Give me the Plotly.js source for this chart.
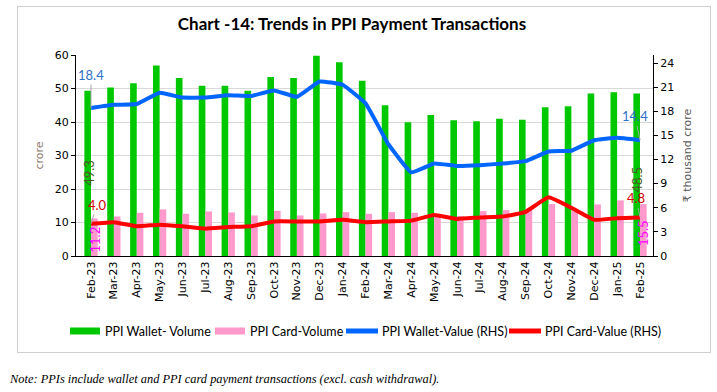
<!DOCTYPE html>
<html>
<head>
<meta charset="utf-8">
<script src="https://cdn.plot.ly/plotly-3.0.1.min.js"></script>
<style>
html,body{margin:0;padding:0;background:#fff;}
#wrap{position:relative;width:717px;height:392px;}
#chart{width:717px;height:392px;}
#frame{position:absolute;left:17px;top:6px;width:692px;height:345px;border:1px solid #CFCFCF;pointer-events:none;box-sizing:content-box;}
</style>
</head>
<body>
<div id="wrap"><div id="chart"></div><div id="frame"></div></div>
<script>
const months = ["Feb-23","Mar-23","Apr-23","May-23","Jun-23","Jul-23","Aug-23","Sep-23","Oct-23","Nov-23","Dec-23","Jan-24","Feb-24","Mar-24","Apr-24","May-24","Jun-24","Jul-24","Aug-24","Sep-24","Oct-24","Nov-24","Dec-24","Jan-25","Feb-25"];
const walletVolume = [49.3,50.3,51.6,56.9,53.1,50.8,50.8,49.3,53.4,53.1,59.8,57.8,52.3,45.0,39.9,42.1,40.5,40.2,41.0,40.7,44.4,44.7,48.5,48.9,48.5];
const cardVolume = [11.2,11.8,12.9,13.9,12.6,13.3,13.0,12.1,13.5,12.1,12.7,13.1,12.6,13.1,12.9,12.5,11.9,13.4,13.7,14.0,15.5,13.5,15.4,16.6,15.5];
const walletValue = [18.4,18.8,18.9,20.3,19.7,19.7,20.0,19.9,20.6,19.8,21.7,21.3,19.0,13.9,10.4,11.5,11.2,11.3,11.5,11.8,13.0,13.1,14.4,14.7,14.4];
const cardValue = [4.0,4.2,3.7,3.9,3.7,3.4,3.6,3.7,4.3,4.3,4.3,4.5,4.2,4.3,4.4,5.1,4.6,4.8,4.9,5.5,7.3,6.0,4.5,4.7,4.8];
const legendNames = ["PPI Wallet- Volume","PPI Card-Volume","PPI Wallet-Value (RHS)","PPI Card-Value (RHS)"];

const C_GREEN = "#00C800", C_PINK = "#FF99CC", C_BLUE = "#0066FF", C_RED = "#FF0000";

const L = 76, R = 653, T = 55, B = 256;
const px = p => (p - L) / (R - L);
const py = p => (B - p) / (B - T);

const traces = [
  {type:"bar", name:legendNames[0], x:months, y:walletVolume, marker:{color:C_GREEN}, yaxis:"y", showlegend:false},
  {type:"bar", name:legendNames[1], x:months, y:cardVolume, marker:{color:C_PINK}, yaxis:"y", showlegend:false},
  {type:"scatter", mode:"lines", name:legendNames[2], x:months, y:walletValue, yaxis:"y2", line:{color:C_BLUE, width:4, shape:"spline", smoothing:0.3}, showlegend:false},
  {type:"scatter", mode:"lines", name:legendNames[3], x:months, y:cardValue, yaxis:"y2", line:{color:C_RED, width:4, shape:"spline", smoothing:0.3}, showlegend:false}
];

const n = months.length - 1;
const lblFont = (c) => ({family:"Lato, sans-serif", size:13, color:c});
const annotations = [
  {x:months[0], y:walletValue[0], xref:"x", yref:"y2", text:walletValue[0].toFixed(1), showarrow:true, arrowhead:0, arrowwidth:1, arrowcolor:"#A6A6A6", ax:0, ay:-33, font:lblFont("#2E70C8")},
  {x:months[n], y:walletValue[n], xref:"x", yref:"y2", text:walletValue[n].toFixed(1), showarrow:true, arrowhead:0, arrowwidth:1, arrowcolor:"#A6A6A6", ax:-5, ay:-24, font:lblFont("#2E70C8")},
  {x:months[0], y:cardValue[0], xref:"x", yref:"y2", text:cardValue[0].toFixed(1), showarrow:true, arrowhead:0, arrowwidth:1, arrowcolor:"#A6A6A6", ax:6, ay:-19, font:lblFont("#D00000")},
  {x:months[n], y:cardValue[n], xref:"x", yref:"y2", text:cardValue[n].toFixed(1), showarrow:true, arrowhead:0, arrowwidth:1, arrowcolor:"#A6A6A6", ax:-4, ay:-19, font:lblFont("#D00000")},
  {x:months[0], y:walletVolume[0], xref:"x", yref:"y", text:walletVolume[0].toFixed(1), showarrow:false, textangle:-90, xshift:-2, yshift:-82, font:lblFont("#4A5A2A")},
  {x:months[n], y:walletVolume[n], xref:"x", yref:"y", text:walletVolume[n].toFixed(1), showarrow:false, textangle:-90, xshift:-3, yshift:-86, font:lblFont("#4A5A2A")},
  {x:months[0], y:cardVolume[0], xref:"x", yref:"y", text:cardVolume[0].toFixed(1), showarrow:false, textangle:-90, xshift:4, yshift:-21, font:lblFont("#FF00FF")},
  {x:months[n], y:cardVolume[n], xref:"x", yref:"y", text:cardVolume[n].toFixed(1), showarrow:false, textangle:-90, xshift:3, yshift:-29, font:lblFont("#FF00FF")},
  {xref:"paper", yref:"paper", x:px(7), y:py(379), xanchor:"left", yanchor:"middle", showarrow:false,
   text:"<i>Note: PPIs include wallet and PPI card payment transactions (excl. cash withdrawal).</i>",
   font:{family:"Liberation Serif, serif", size:12.4, color:"#000"}}
];

const legFont = {family:"Lato, sans-serif", size:12.5, color:"#000"};
const legY = 331;
const legItems = [
  {x0:70, x1:100, tx:103, kind:"rect", color:C_GREEN},
  {x0:215, x1:245, tx:248, kind:"rect", color:C_PINK},
  {x0:346, x1:378, tx:380, kind:"line", color:C_BLUE},
  {x0:509, x1:541, tx:543, kind:"line", color:C_RED}
];
const shapes = [];
legItems.forEach((it, i) => {
  if (it.kind === "rect") {
    shapes.push({type:"rect", xref:"paper", yref:"paper", x0:px(it.x0), x1:px(it.x1), y0:py(legY+3.5), y1:py(legY-3.5), fillcolor:it.color, line:{width:0}});
  } else {
    shapes.push({type:"line", xref:"paper", yref:"paper", x0:px(it.x0), x1:px(it.x1), y0:py(legY), y1:py(legY), line:{color:it.color, width:5}});
  }
  annotations.push({xref:"paper", yref:"paper", x:px(it.tx), y:py(legY), xanchor:"left", yanchor:"middle", showarrow:false, text:legendNames[i], font:legFont});
});

const tickFont = {family:"DejaVu Sans, sans-serif", size:11, color:"#000"};
const layout = {
  width:717, height:392,
  margin:{l:L, r:717-R, t:T, b:392-B, pad:0},
  paper_bgcolor:"#fff", plot_bgcolor:"#fff",
  title:{text:"<b>Chart -14: Trends in PPI Payment Transactions</b>", font:{family:"Lato, sans-serif", size:17, color:"#000"}, xref:"container", yref:"container", x:352/717, xanchor:"center", y:1-24/392, yanchor:"middle"},
  barmode:"group", bargap:0.42, bargroupgap:0,
  showlegend:false,
  xaxis:{type:"category", tickangle:-90, tickfont:tickFont, showline:true, linecolor:"#000", linewidth:1, ticks:"", showgrid:false, zeroline:false},
  yaxis:{range:[0,60], dtick:10, tickfont:tickFont, showline:true, linecolor:"#000", linewidth:1, ticks:"outside", ticklen:4, tickcolor:"#000", gridcolor:"#D9D9D9", gridwidth:1, zeroline:false,
         title:{text:"crore", font:{family:"DejaVu Sans, sans-serif", size:11, color:"#8C7B70"}, standoff:8}},
  yaxis2:{range:[0,25], dtick:3, overlaying:"y", side:"right", tickfont:tickFont, showline:true, linecolor:"#000", linewidth:1, ticks:"outside", ticklen:4, tickcolor:"#000", showgrid:false, zeroline:false,
          title:{text:"₹ thousand crore", font:{family:"DejaVu Sans, sans-serif", size:11, color:"#595959"}, standoff:10}},
  shapes:shapes,
  annotations:annotations
};

Plotly.newPlot("chart", traces, layout, {displayModeBar:false, staticPlot:true});
</script>
</body>
</html>
